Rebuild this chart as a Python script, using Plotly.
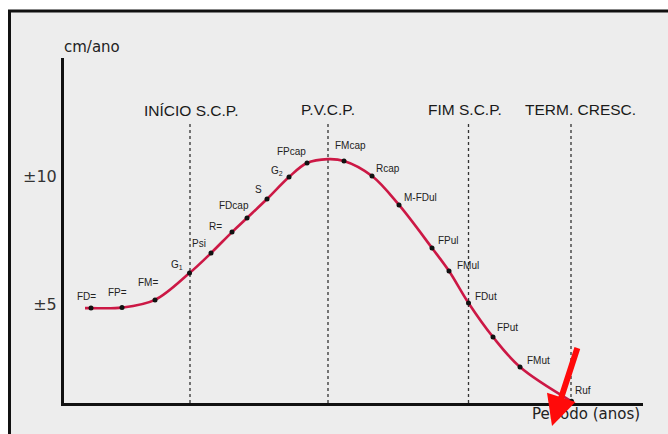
import plotly.graph_objects as go

# ---- data ----
stage_labels = ["FD=", "FP=", "FM=", "G<sub>1</sub>", "Psi", "R=", "FDcap", "S",
                "G<sub>2</sub>", "FPcap", "FMcap", "Rcap", "M-FDul", "FPul",
                "FMul", "FDut", "FPut", "FMut", "Ruf"]
stage_x = [2.6, 5.7, 9.0, 12.45, 14.6, 16.7, 18.2, 20.2, 22.4, 24.2,
           27.9, 30.7, 33.4, 36.7, 38.4, 40.35, 42.8, 45.5, 50.65]
stage_y = [4.84, 4.86, 5.16, 6.21, 6.99, 7.81, 8.36, 9.10, 9.96, 10.51,
           10.59, 10.00, 8.87, 7.19, 6.29, 5.04, 3.71, 2.54, 1.20]
curve_start = (2.0, 4.84)
curve_peak = (26.3, 10.66)

event_labels = ["INÍCIO S.C.P.", "P.V.C.P.", "FIM S.C.P.", "TERM. CRESC."]
event_x = [12.5, 26.3, 40.35, 50.6]

y_tick_vals = [5, 10]
y_tick_text = ["±5", "±10"]
y_title = "cm/ano"
x_title = "Período (anos)"

# ---- layout geometry ----
W, H = 668, 434
ML, MR, MT, MB = 64, 25, 58, 31
PW, PH = W - ML - MR, H - MT - MB


def px(xp):
    return (xp - ML) / PW


def py(yp):
    return (H - MB - yp) / PH


# label offsets (pixels) relative to each point
label_shift = [(-5, 12), (-5, 15), (-7, 17), (-13, 8), (-12, 10), (-17, 6),
               (-13, 12), (-9, 10), (-12, 6), (-16, 11), (6, 15), (16, 8),
               (21, 7), (16, 7), (19, 5), (17, 6), (14, 10), (18, 6), (11, 11)]

curve_pts = sorted([curve_start, curve_peak] + list(zip(stage_x, stage_y)))
cx = [p[0] for p in curve_pts]
cy = [p[1] for p in curve_pts]

fig = go.Figure()
fig.add_trace(go.Scatter(x=cx, y=cy, mode="lines",
                         line=dict(color="#cc1845", width=2.6, shape="spline", smoothing=1.0),
                         hoverinfo="skip", showlegend=False))
fig.add_trace(go.Scatter(x=stage_x, y=stage_y, mode="markers",
                         marker=dict(color="#111111", size=5),
                         showlegend=False, cliponaxis=False))

annotations = []
for lab, x, y, (dx, dy) in zip(stage_labels, stage_x, stage_y, label_shift):
    annotations.append(dict(x=x, y=y, xref="x", yref="y", text=lab, showarrow=False,
                            xshift=dx, yshift=dy,
                            font=dict(family="Liberation Sans, Arial", size=10, color="#222")))

header_px = [(191, 110), (328, 109), (465, 109), (580, 109)]
for lab, (hx, hy) in zip(event_labels, header_px):
    annotations.append(dict(x=px(hx), y=py(hy), xref="paper", yref="paper", text=lab,
                            showarrow=False, xanchor="center", yanchor="middle",
                            font=dict(family="Liberation Sans, Arial", size=15.5, color="#1a1a1a")))

annotations.append(dict(x=px(62), y=py(47), xref="paper", yref="paper", text=y_title,
                        showarrow=False, xanchor="left", yanchor="middle",
                        font=dict(family="DejaVu Sans", size=15, color="#222")))
annotations.append(dict(x=px(586), y=py(414), xref="paper", yref="paper", text=x_title,
                        showarrow=False, xanchor="center", yanchor="middle",
                        font=dict(family="DejaVu Sans", size=15, color="#222")))

# red arrow
annotations.append(dict(x=px(552), y=py(426), xref="paper", yref="paper", text=" ",
                        showarrow=True, ax=26, ay=-80, axref="pixel", ayref="pixel",
                        arrowcolor="#ff0a0a", arrowwidth=6, arrowhead=2, arrowsize=1.0,
                        standoff=0, startstandoff=0, font=dict(size=1)))

shapes = [
    dict(type="rect", xref="paper", yref="paper", x0=px(9.5), x1=px(720), y0=py(11), y1=py(480),
         fillcolor="#ededed", line=dict(color="#111", width=3), layer="below"),
]
for ex in event_x:
    shapes.append(dict(type="line", xref="x", yref="y", x0=ex, x1=ex, y0=1.133, y1=12.07,
                       line=dict(color="#333", width=1.3, dash="dot"), layer="below"))

fig.update_layout(
    width=W, height=H,
    margin=dict(l=ML, r=MR, t=MT, b=MB),
    paper_bgcolor="white", plot_bgcolor="rgba(0,0,0,0)",
    showlegend=False,
    xaxis=dict(range=[-0.1, 57.8], showgrid=False, zeroline=False, showticklabels=False,
               ticks="", showline=True, linecolor="#111", linewidth=3, fixedrange=True),
    yaxis=dict(range=[1.133, 14.61], showgrid=False, zeroline=False,
               tickvals=y_tick_vals, ticktext=y_tick_text, ticks="",
               ticklabelstandoff=1,
               tickfont=dict(family="DejaVu Sans", size=16, color="#333"),
               showline=True, linecolor="#111", linewidth=3, fixedrange=True),
    annotations=annotations,
    shapes=shapes,
)

fig.write_html("out.html", config={"displayModeBar": False},
               post_script="document.body.style.margin='0px';")
